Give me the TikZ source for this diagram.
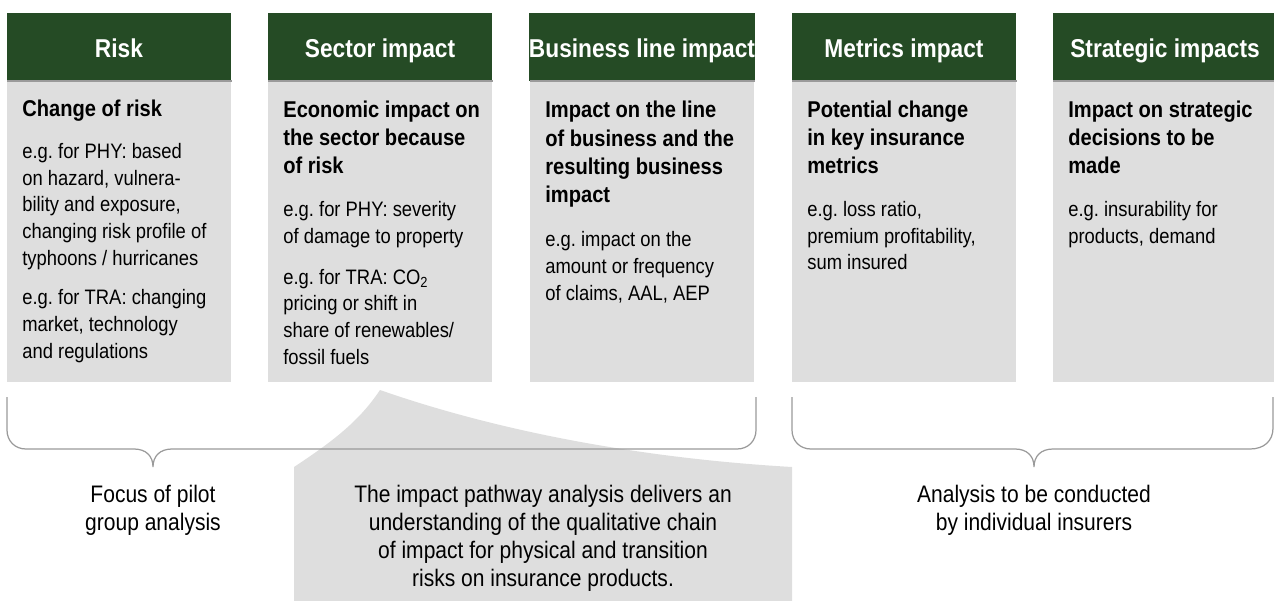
\documentclass[tikz,border=0pt]{standalone}
\usepackage{fontspec}
\setmainfont{Liberation Sans}[FakeStretch=0.88]
\frenchspacing
\definecolor{headgreen}{HTML}{254B25}
\definecolor{boxgray}{HTML}{DEDEDE}
\definecolor{rulegray}{HTML}{9A9A9A}

\begin{document}
\begin{tikzpicture}[x=0.02cm, y=-0.02cm,
    head/.style={rectangle, fill=headgreen, text=white, inner sep=0pt,
      minimum width=4.48cm, minimum height=1.36cm, text height=0.42cm, text depth=0pt,
      font=\bfseries\fontsize{14.7pt}{17pt}\selectfont},
    panel/.style={rectangle, fill=boxgray, anchor=north west, inner sep=0pt,
      minimum width=4.48cm, minimum height=6.02cm},
    subtitle/.style={anchor=base west, align=left, inner sep=0pt,
      font=\bfseries\fontsize{13pt}{16.2pt}\selectfont},
    body/.style={anchor=base west, align=left, inner sep=0pt,
      font=\fontsize{11.9pt}{15.1pt}\selectfont},
    caption/.style={anchor=base, align=center, inner sep=0pt,
      font=\fontsize{13.6pt}{15.9pt}\selectfont},
    brace/.style={draw=rulegray, line width=0.7pt}]

    \clip (0,0) rectangle (1274,601);

    % Column panels
    \node[panel] (p1) at (7,81) {};
    \node[panel] (p2) at (268,81) {};
    \node[panel] (p3) at (530,81) {};
    \node[panel] (p4) at (792,81) {};
    \node[panel] (p5) at (1053,81) {};
    % Headers
    \node[head] (h1) at (119,47) {Risk};
    \node[head] (h2) at (380,47) {Sector impact};
    \node[head] (h3) at (642,47) {Business line impact};
    \node[head] (h4) at (904,47) {Metrics impact};
    \node[head] (h5) at (1165,47) {Strategic impacts};
    \foreach \p in {p1,p2,p3,p4,p5}
        \draw[rulegray, line width=0.04cm] (\p.north west) -- (\p.north east);

    % Risk (text nodes sit on the baseline of their last line)
    \node[subtitle] (s1) at (22,117) {Change of risk};
    \node[body] (b1a) at (22,265) {e.g. for PHY: based\\on hazard, vulnera-\\bility and exposure,\\changing risk profile of\\typhoons / hurricanes};
    \node[body] (b1b) at (22,358) {e.g. for TRA: changing\\market, technology\\and regulations};
    % Sector impact
    \node[subtitle] (s2) at (283,174) {Economic impact on\\the sector because\\of risk};
    \node[body] (b2a) at (283,243) {e.g. for PHY: severity\\of damage to property};
    \node[body] (b2b) at (283,364) {e.g. for TRA: CO\textsubscript{2}\\pricing or shift in\\share of renewables/\\fossil fuels};
    % Business line impact
    \node[subtitle] (s3) at (545,203) {Impact on the line\\of business and the\\resulting business\\impact};
    \node[body] (b3) at (545,300) {e.g. impact on the\\amount or frequency\\of claims, AAL, AEP};
    % Metrics impact
    \node[subtitle] (s4) at (807,174) {Potential change\\in key insurance\\metrics};
    \node[body] (b4) at (807,270) {e.g. loss ratio,\\premium profitability,\\sum insured};
    % Strategic impacts
    \node[subtitle] (s5) at (1068,174) {Impact on strategic\\decisions to be\\made};
    \node[body] (b5) at (1068,243) {e.g. insurability for\\products, demand};

    % Callout
    \fill[boxgray] (380,390) .. controls (480,425) and (620,457) .. (792,467) -- (792,601)
        -- (294,601) -- (294,467) .. controls (335,440) and (360,420) .. (380,390) -- cycle;

    % Braces
    \draw[brace] (7,397) -- (7,430) .. controls (7,441) and (15,449) .. (26,449) -- (134,449)
        .. controls (146,449) and (153,456) .. (153,467) .. controls (153,456) and (160,449) .. (172,449)
        -- (737,449) .. controls (748,449) and (756,441) .. (756,430) -- (756,397);
    \draw[brace] (792,397) -- (792,430) .. controls (792,441) and (800,449) .. (811,449) -- (1015,449)
        .. controls (1027,449) and (1034,456) .. (1034,467) .. controls (1034,456) and (1041,449) .. (1053,449)
        -- (1250,449) .. controls (1264,449) and (1273,441) .. (1273,428) -- (1273,397);

    % Captions
    \node[caption] (c1) at (153,530) {Focus of pilot\\group analysis};
    \node[caption] (c2) at (543,586) {The impact pathway analysis delivers an\\understanding of the qualitative chain\\of impact for physical and transition\\risks on insurance products.};
    \node[caption] (c3) at (1034,530) {Analysis to be conducted\\by individual insurers};
\end{tikzpicture}
\end{document}
